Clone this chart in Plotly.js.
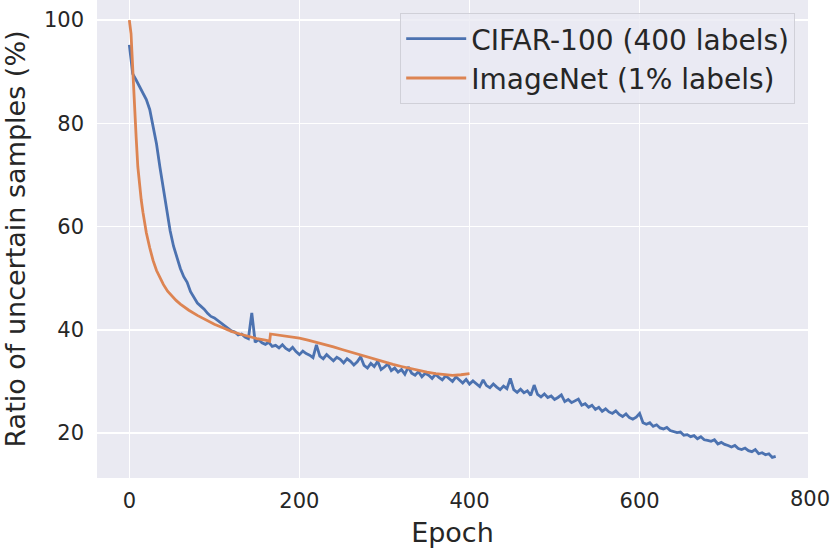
<!DOCTYPE html>
<html>
<head>
<meta charset="utf-8">
<script src="https://cdn.plot.ly/plotly-3.0.1.min.js"></script>
<style>
  html, body { margin: 0; padding: 0; background: #ffffff; }
  #chart { width: 830px; height: 551px; }
</style>
</head>
<body>
<div id="chart"></div>
<script>
// CIFAR-100, one value every 4 epochs
const cifarStep = 4;
const cifarRatio = [
  95.2, 89.6, 88.4, 87.2, 86.0, 84.6, 82.7, 79.6, 76.0, 71.5,
  67.2, 63.0, 59.2, 56.2, 53.8, 51.9, 50.3, 49.2, 47.4, 46.4,
  45.2, 44.6, 44.0, 43.2, 42.6, 42.3, 41.8, 41.4, 40.8, 40.4,
  39.8, 39.6, 39.0, 39.2, 38.6, 38.3, 43.3,
  37.6, 38.1, 37.5, 37.2, 37.6, 36.8, 37.0, 36.5, 37.1, 36.4,
  36.0, 36.6, 35.8, 35.2, 35.9, 35.4, 35.1, 34.6, 37.1, 34.9,
  34.4, 35.2, 34.6, 34.0, 34.7, 34.3, 33.6, 34.4, 33.9, 33.2,
  33.8, 34.8, 33.1, 32.6, 33.5, 32.9, 33.9, 32.3, 32.8, 33.4,
  32.1, 32.6, 31.8, 32.3, 31.4, 32.8, 31.6, 31.2, 31.9, 30.9,
  31.6, 31.2, 30.6, 31.4, 30.8, 30.3, 31.1, 30.5, 30.0, 30.9,
  30.2, 29.7, 30.4, 29.5, 30.1, 29.6, 29.0, 30.3, 29.2, 28.8,
  29.5, 28.9, 28.4, 29.1, 28.6, 30.6, 28.4, 27.9, 28.5, 27.8,
  28.2, 27.3, 29.3, 27.5, 27.0, 27.6, 26.9, 27.2, 26.5, 26.9,
  27.4, 26.1, 26.5, 25.9, 26.3, 26.6, 25.4, 25.7, 25.0, 25.4,
  24.6, 25.0, 24.2, 24.7, 24.1, 23.8, 24.3, 23.6, 23.2, 23.7,
  23.0, 22.7, 23.1, 23.8, 22.0, 21.7, 22.0, 21.3, 21.6, 21.0,
  20.8, 21.1, 20.5, 20.3, 20.1, 20.2, 19.6, 19.7, 19.3, 19.5,
  18.9, 19.3, 18.7, 18.6, 18.4, 18.7, 17.9, 18.2, 17.8, 17.6,
  17.3, 17.6, 17.0, 16.8, 17.1, 16.6, 16.4, 16.8, 16.0, 16.2,
  15.8, 16.0, 15.3, 15.5
];
const cifarEpochs = cifarRatio.map((v, i) => i * cifarStep);

// ImageNet, smooth curve, irregular sampling
const imagenetEpochs = [
  0, 1, 2, 3, 4, 5, 6, 7, 8, 10, 12, 14, 16, 18, 20, 24, 28, 32, 36, 40,
  45, 50, 55, 60, 70, 80, 90, 100, 110, 120, 130, 140, 150, 160, 165, 166,
  170, 180, 190, 200, 210, 220, 230, 240, 250, 260, 270, 280, 290, 300,
  310, 320, 330, 340, 350, 360, 370, 380, 390, 400
];
const imagenetRatio = [
  100.0, 99.0, 97.4, 94.0, 90.3, 86.8, 83.3, 80.2, 77.4, 71.6, 68.0, 65.2,
  62.8, 60.6, 58.8, 55.9, 53.4, 51.5, 50.0, 48.8,
  47.5, 46.5, 45.7, 45.0, 43.8, 42.8, 41.9, 41.1, 40.4, 39.7, 39.2, 38.7,
  38.3, 38.0, 37.8, 39.2,
  39.1, 38.9, 38.7, 38.4, 38.0, 37.6, 37.2, 36.7, 36.2, 35.7, 35.2, 34.7,
  34.2, 33.7, 33.3, 32.9, 32.5, 32.1, 31.8, 31.5, 31.4, 31.2, 31.3, 31.5
];

const seriesNames = ['CIFAR-100 (400 labels)', 'ImageNet (1% labels)'];
const xTicks = [0, 200, 400, 600];   // 800 sits just past the axis end
const xTickEnd = 800;
const yTicks = [20, 40, 60, 80, 100];
const xRange = [-38, 798];

const txt = '#262626';
const font = 'DejaVu Sans, sans-serif';

const traces = [
  {
    x: cifarEpochs, y: cifarRatio, name: seriesNames[0],
    type: 'scatter', mode: 'lines',
    line: { color: '#4C72B0', width: 2.8 }
  },
  {
    x: imagenetEpochs, y: imagenetRatio, name: seriesNames[1],
    type: 'scatter', mode: 'lines',
    line: { color: '#DD8452', width: 2.8 }
  }
];

// plotly hides data-anchored annotations past the range, so place by paper fraction
const endFrac = (xTickEnd - xRange[0]) / (xRange[1] - xRange[0]);

const layout = {
  width: 830,
  height: 551,
  margin: { l: 97, r: 22, t: 0, b: 73 },
  paper_bgcolor: '#ffffff',
  plot_bgcolor: '#EAEAF2',
  font: { family: font, color: txt },
  showlegend: true,
  legend: {
    x: 0.982, y: 0.973, xanchor: 'right', yanchor: 'top',
    bgcolor: 'rgba(234,234,242,0.8)',
    bordercolor: '#d0d0d8', borderwidth: 1,
    font: { family: font, size: 28, color: txt },
    itemwidth: 60,
    tracegroupgap: 0
  },
  xaxis: {
    range: xRange,
    tickvals: xTicks,
    ticktext: xTicks.map(String),
    showgrid: true, gridcolor: '#ffffff', gridwidth: 1.3,
    zeroline: false, showline: false, ticks: '',
    tickfont: { size: 21, color: txt },
    ticklabelstandoff: 8,
    title: { text: 'Epoch', font: { size: 27, color: txt }, standoff: 11 }
  },
  yaxis: {
    range: [11.3, 103.9],
    tickvals: yTicks,
    ticktext: yTicks.map(String),
    showgrid: true, gridcolor: '#ffffff', gridwidth: 1.3,
    zeroline: false, showline: false, ticks: '',
    tickfont: { size: 21, color: txt },
    ticklabelstandoff: 12,
    title: { text: 'Ratio of uncertain samples (%)', font: { size: 27, color: txt }, standoff: 11 }
  },
  annotations: [
    {
      x: endFrac, xref: 'paper', y: 0, yref: 'paper',
      xanchor: 'center', yanchor: 'top', yshift: -7,
      text: String(xTickEnd), showarrow: false,
      font: { family: font, size: 21, color: txt }
    }
  ]
};

Plotly.newPlot('chart', traces, layout, { displayModeBar: false, staticPlot: true });
</script>
</body>
</html>
